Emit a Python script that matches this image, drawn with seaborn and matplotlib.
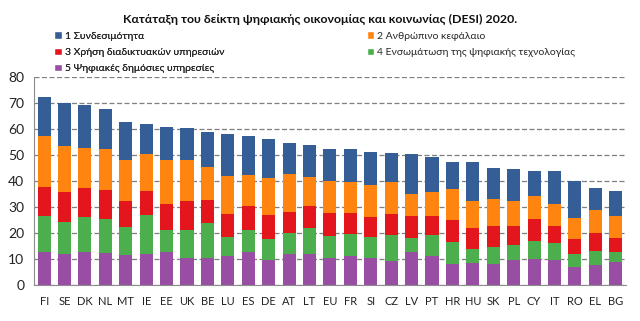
import matplotlib
matplotlib.use("Agg")
import matplotlib.pyplot as plt
import seaborn as sns
import pandas as pd
import numpy as np
from matplotlib.patches import Patch

countries = ["FI", "SE", "DK", "NL", "MT", "IE", "EE", "UK", "BE", "LU", "ES", "DE", "AT", "LT",
             "EU", "FR", "SI", "CZ", "LV", "PT", "HR", "HU", "SK", "PL", "CY", "IT", "RO", "EL", "BG"]

# DESI 2020 dimension scores (weighted contributions)
public_services = [12.8, 11.8, 12.8, 12.2, 11.4, 12.1, 12.9, 10.4, 10.5, 11.0, 12.8, 9.7, 12.1, 12.1,
                   10.5, 11.2, 10.3, 9.2, 12.6, 11.2, 8.2, 8.3, 8.2, 9.7, 10.1, 9.7, 7.1, 7.6, 9.0]
digital_tech = [13.6, 12.3, 13.2, 13.1, 11.0, 14.7, 8.4, 10.9, 13.2, 7.6, 8.2, 8.0, 7.8, 9.8,
                8.5, 8.5, 8.3, 9.9, 5.6, 7.9, 8.2, 5.4, 6.5, 5.7, 6.8, 6.5, 5.0, 5.5, 3.6]
internet_use = [11.5, 11.5, 11.3, 11.2, 9.9, 9.4, 10.0, 11.0, 9.1, 8.7, 9.5, 9.1, 8.3, 8.6,
                8.7, 8.0, 7.7, 8.1, 8.2, 7.6, 8.5, 8.2, 8.1, 7.4, 8.4, 6.7, 5.5, 6.8, 5.5]
human_capital = [19.4, 18.0, 15.4, 15.9, 15.8, 14.1, 16.8, 15.8, 12.7, 14.6, 11.8, 14.4, 14.4, 10.9,
                 12.4, 11.8, 12.0, 12.3, 8.7, 9.2, 12.2, 10.5, 10.4, 9.4, 9.1, 8.1, 8.2, 8.9, 8.6]
connectivity = [15.0, 16.3, 16.5, 15.2, 14.6, 11.6, 12.8, 12.3, 13.3, 16.2, 15.1, 14.8, 11.9, 12.3,
                12.3, 12.7, 12.9, 11.3, 15.3, 13.5, 10.3, 15.0, 11.8, 12.5, 9.6, 12.7, 14.1, 8.6, 9.5]

labels = ["1 Συνδεσιμότητα", "2 Ανθρώπινο κεφάλαιο", "3 Χρήση διαδικτυακών υπηρεσιών",
          "4 Ενσωμάτωση της ψηφιακής τεχνολογίας", "5 Ψηφιακές δημόσιες υπηρεσίες"]
colors = ["#355d96", "#ff8410", "#e3161d", "#4cae4c", "#984ea3"]

# Stack order from bottom: 5, 4, 3, 2, 1
layers_bottom_up = [public_services, digital_tech, internet_use, human_capital, connectivity]
colors_bottom_up = [colors[4], colors[3], colors[2], colors[1], colors[0]]

df = pd.DataFrame({"country": countries})
cum = np.zeros(len(countries))
cum_cols = []
for i, layer in enumerate(layers_bottom_up):
    cum = cum + np.array(layer)
    name = f"cum{i}"
    df[name] = cum
    cum_cols.append(name)

sns.set_style("white")
plt.rcParams["font.family"] = ["Lato", "DejaVu Sans"]

fig = plt.figure(figsize=(6.4, 3.21), dpi=100)
ax = fig.add_axes([0.053, 0.112, 0.925, 0.648])

# Draw cumulative totals from the top layer down so each lower layer covers the one above
for name, col in zip(reversed(cum_cols), reversed(colors_bottom_up)):
    sns.barplot(data=df, x="country", y=name, color=col, width=0.64, ax=ax,
                saturation=1, linewidth=0, order=countries)

ax.set_ylim(0, 80)
ax.set_xlim(-0.5, len(countries) - 0.5)
ax.set_yticks(range(0, 81, 10))
ax.set_xlabel("")
ax.set_ylabel("")
ax.set_axisbelow(True)
ax.yaxis.grid(True, color="#7f7f7f", linestyle=(0, (4, 2)), linewidth=0.9)
ax.tick_params(axis="y", labelsize=10, length=0, pad=7, colors="#222222")
ax.tick_params(axis="x", labelsize=8, length=0, pad=8, colors="#222222")
for s in ["top", "right"]:
    ax.spines[s].set_visible(False)
ax.spines["left"].set_color("#8c8c8c")
ax.spines["bottom"].set_color("#8c8c8c")

fig.text(0.5, 0.938, "Κατάταξη του δείκτη ψηφιακής οικονομίας και κοινωνίας (DESI) 2020.",
         ha="center", va="center", fontsize=8.95, fontweight="bold", color="#111111")

handles = [Patch(facecolor=c) for c in colors]
leg_kw = dict(loc="upper left", frameon=False, fontsize=7.5, handlelength=0.7,
              handleheight=0.7, handletextpad=0.3, labelspacing=0.68,
              borderaxespad=0, borderpad=0)
leg1 = fig.legend([handles[0], handles[2], handles[4]], [labels[0], labels[2], labels[4]],
                  bbox_to_anchor=(0.085, 0.9025), **leg_kw)
leg2 = fig.legend([handles[1], handles[3]], [labels[1], labels[3]],
                  bbox_to_anchor=(0.573, 0.9025), **leg_kw)
fig.add_artist(leg1)

fig.savefig("out.png", dpi=100)
